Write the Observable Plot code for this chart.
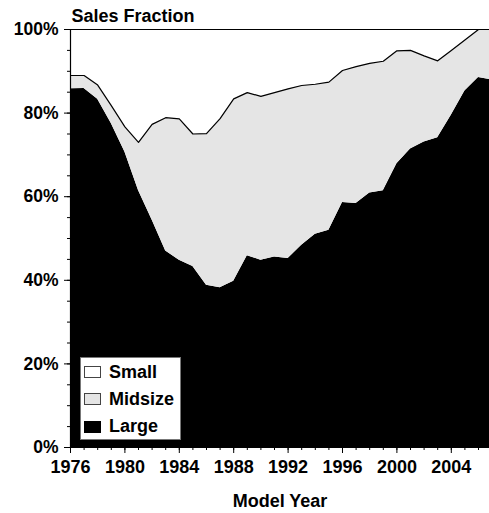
<!DOCTYPE html>
<html>
<head>
<meta charset="utf-8">
<script src="https://cdn.jsdelivr.net/npm/d3@7"></script>
<script src="https://cdn.jsdelivr.net/npm/@observablehq/plot@0.6"></script>
<style>
  html, body { margin: 0; padding: 0; background: #fff; }
  #wrap { position: relative; width: 489px; height: 513px; font-family: "Liberation Sans", Arial, sans-serif; font-weight: bold; }
  #legend { position: absolute; left: 80px; top: 357px; width: 99px; height: 81px; background: #fff; border: 1px solid #777; }
  .row { position: absolute; left: 0; height: 18px; line-height: 18px; font-size: 18px; color: #000; }
  .sw { position: absolute; left: 3px; top: 3.5px; width: 15px; height: 10px; border: 1px solid #444; }
  .lab { position: absolute; left: 28px; top: 0; white-space: nowrap; }
</style>
</head>
<body>
<div id="wrap"></div>
<script>
const years = d3.range(1976, 2008);
const categories = ["Large", "Midsize", "Small"];
const colors = ["#000000", "#e5e5e5", "#ffffff"];
const large   = [85.8,85.9,83.3,77.5,70.7,61.5,54.4,47.0,44.8,43.3,38.8,38.2,39.8,45.9,44.8,45.6,45.2,48.4,51.0,52.0,58.6,58.4,60.9,61.4,67.9,71.4,73.1,74.1,79.5,85.3,88.5,87.9];
const midsize = [3.2,3.1,3.4,4.3,6.0,11.5,22.9,31.9,33.8,31.7,36.3,40.5,43.6,39.0,39.2,39.3,40.6,38.2,35.9,35.4,31.6,32.7,31.0,31.0,27.0,23.6,20.6,18.4,15.5,12.2,11.5,12.1];
const small   = [11.0,11.0,13.3,18.2,23.3,27.0,22.7,21.1,21.4,25.0,24.9,21.3,16.6,15.1,16.0,15.1,14.2,13.4,13.1,12.6,9.8,8.9,8.1,7.6,5.1,5.0,6.3,7.5,5.0,2.5,0,0];
const yTicks = [0, 20, 40, 60, 80, 100];
const xTicks = [1976, 1980, 1984, 1988, 1992, 1996, 2000, 2004];

const series = {Large: large, Midsize: midsize, Small: small};
const rows = [];
for (const c of categories) years.forEach((yr, i) => rows.push({year: yr, cat: c, value: series[c][i]}));
const topLine = years.map((yr, i) => ({year: yr, value: large[i] + midsize[i]}));

const font = '"Liberation Sans", Arial, sans-serif';
const chart = Plot.plot({
  width: 489,
  height: 513,
  marginLeft: 70,
  marginRight: 0,
  marginTop: 29,
  marginBottom: 66,
  style: {fontFamily: font, fontSize: "17.5px", fontWeight: "bold", color: "#000", background: "#fff", overflow: "hidden"},
  x: {domain: [1976, 2007], range: [70, 491.6]},
  y: {domain: [0, 100], range: [447, 29]},
  color: {domain: categories, range: colors},
  marks: [
    Plot.areaY(rows, {x: "year", y: "value", fill: "cat", order: categories}),
    Plot.lineY(topLine, {x: "year", y: "value", stroke: "#000", strokeWidth: 1.2}),
    Plot.ruleY([100], {stroke: "#000", strokeWidth: 1.2}),
    Plot.ruleY([0], {stroke: "#000", strokeWidth: 1.2}),
    Plot.ruleX([1976], {stroke: "#000", strokeWidth: 1.2}),
    Plot.axisY(d3.range(0, 101, 5), {tickSize: 3, text: null, label: null, stroke: "#000"}),
    Plot.axisY(yTicks, {tickSize: 6, tickPadding: 6, tickFormat: d => d + "%", label: null, stroke: "#000"}),
    Plot.axisX(years, {tickSize: 3, text: null, label: null, stroke: "#000"}),
    Plot.axisX(xTicks, {tickSize: 6, tickPadding: 7, tickFormat: d => String(d), label: "Model Year", labelAnchor: "center", labelArrow: "none", labelOffset: 59, fontSize: 18, stroke: "#000"}),
    Plot.text(["Sales Fraction"], {frameAnchor: "top-left", textAnchor: "start", lineAnchor: "bottom", dx: 1, dy: -7.5, fontSize: 18})
  ]
});
const wrap = document.getElementById("wrap");
wrap.appendChild(chart);

const legend = document.createElement("div");
legend.id = "legend";
const legendItems = ["Small", "Midsize", "Large"];
legendItems.forEach((name, i) => {
  const r = document.createElement("div");
  r.className = "row";
  r.style.top = (4.5 + 27.3 * i) + "px";
  const sw = document.createElement("div");
  sw.className = "sw";
  sw.style.background = colors[categories.indexOf(name)];
  if (name === "Large") sw.style.borderColor = "#000";
  const lab = document.createElement("span");
  lab.className = "lab";
  lab.textContent = name;
  r.appendChild(sw); r.appendChild(lab);
  legend.appendChild(r);
});
wrap.appendChild(legend);
</script>
</body>
</html>
